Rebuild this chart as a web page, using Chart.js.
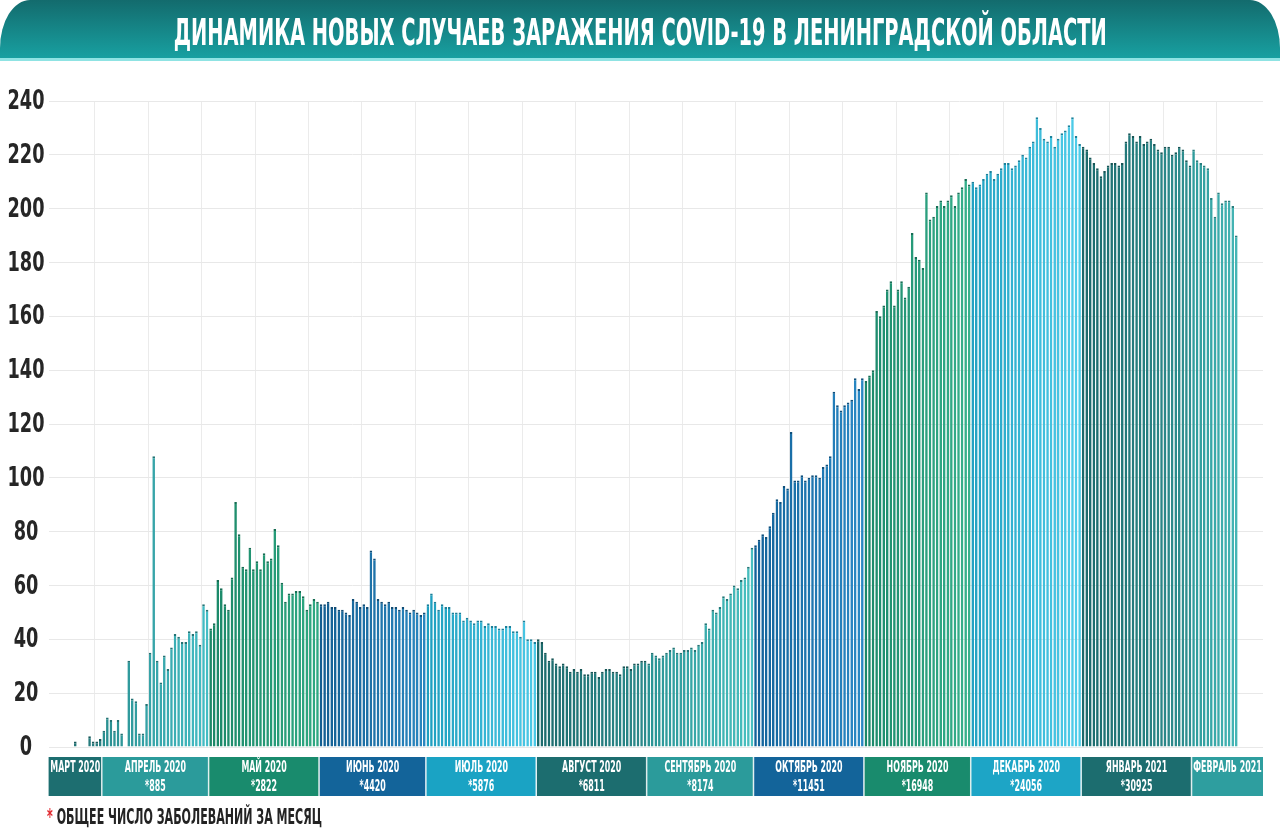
<!DOCTYPE html>
<html lang="ru">
<head>
<meta charset="utf-8">
<script src="https://cdn.jsdelivr.net/npm/chart.js@4.4.0/dist/chart.umd.min.js"></script>
<style>
  html, body { margin: 0; padding: 0; background: #fff; }
  body { width: 1280px; height: 833px; position: relative; overflow: hidden;
         font-family: "Liberation Sans Narrow", "DejaVu Sans Condensed", Roboto, sans-serif; }
  #chart { position: absolute; left: 0; top: 0; }
  #banner { position: absolute; left: 0; top: 0; width: 1280px; height: 58px;
            border-radius: 30px 30px 0 0 / 48px 48px 0 0;
            background: linear-gradient(#136b6d, #18a0a1);
            border-bottom: 3px solid #8fe3e3;
            display: flex; align-items: center; justify-content: center; overflow: hidden; }
  #title { color: #fff; font-weight: 700; font-size: 38px; white-space: nowrap;
           display: inline-block; transform-origin: center center; margin-top: 5px; }
  #note { position: absolute; left: 47px; top: 804px; font-weight: 700; font-size: 22px;
          color: #232323; white-space: nowrap; transform-origin: left center; }
  #note span { color: #e0262c; }
</style>
</head>
<body>
<canvas id="chart" width="1280" height="833"></canvas>
<div id="banner"><span id="title">ДИНАМИКА НОВЫХ СЛУЧАЕВ ЗАРАЖЕНИЯ COVID-19 В ЛЕНИНГРАДСКОЙ ОБЛАСТИ</span></div>
<div id="note"><span>*</span> ОБЩЕЕ ЧИСЛО ЗАБОЛЕВАНИЙ ЗА МЕСЯЦ</div>
<script>
// months shown in the strip under the bars
const monthNames = ['МАРТ 2020', 'АПРЕЛЬ 2020', 'МАЙ 2020', 'ИЮНЬ 2020', 'ИЮЛЬ 2020', 'АВГУСТ 2020',
  'СЕНТЯБРЬ 2020', 'ОКТЯБРЬ 2020', 'НОЯБРЬ 2020', 'ДЕКАБРЬ 2020', 'ЯНВАРЬ 2021', 'ФЕВРАЛЬ 2021'];
const monthTotals = ['', '*885', '*2822', '*4420', '*5876', '*6811', '*8174', '*11451', '*16948', '*24056', '*30925', ''];
const monthFirstDay = [17, 1, 1, 1, 1, 1, 1, 1, 1, 1, 1, 1];
const monthNumber = ['03', '04', '05', '06', '07', '08', '09', '10', '11', '12', '01', '02'];

// new cases per day, one array per month
const casesMar = [null, null, null, null, null, null, null, 2, null, null, null, 4, 2, 2, 3];
const casesApr = [6, 11, 10, 6, 10, 5, null, 32, 18, 17, 5, 5, 16, 35, 108, 32, 24, 34, 29, 37,
  42, 41, 39, 39, 43, 42, 43, 38, 53, 51];
const casesMay = [44, 46, 62, 59, 53, 51, 63, 91, 79, 67, 66, 74, 66, 69, 66, 72, 69, 70, 81, 75,
  61, 54, 57, 57, 58, 58, 56, 51, 53, 55, 54];
const casesJun = [53, 53, 54, 52, 52, 51, 51, 50, 49, 55, 54, 52, 53, 52, 73, 70, 55, 54, 53, 54,
  52, 52, 51, 52, 51, 50, 51, 50, 49, 50];
const casesJul = [53, 57, 54, 51, 53, 52, 52, 50, 50, 50, 47, 48, 47, 46, 47, 47, 45, 46, 45, 45,
  44, 44, 45, 45, 43, 43, 41, 47, 40, 40, 39];
const casesAug = [40, 39, 35, 32, 33, 31, 30, 31, 30, 28, 29, 28, 29, 27, 27, 28, 28, 26, 28, 29,
  29, 28, 28, 27, 30, 30, 29, 31, 31, 32, 32];
const casesSep = [31, 35, 34, 33, 34, 35, 36, 37, 35, 35, 36, 36, 37, 36, 38, 39, 46, 44, 51, 50,
  52, 56, 55, 57, 60, 59, 62, 63, 67, 74];
const casesOct = [75, 77, 79, 78, 82, 87, 92, 91, 97, 96, 117, 99, 99, 101, 99, 100, 101, 101, 100, 104,
  105, 108, 132, 127, 125, 127, 128, 129, 137, 133, 137];
const casesNov = [136, 138, 140, 162, 160, 164, 170, 173, 164, 170, 173, 167, 171, 191, 182, 181, 178, 206, 196, 197,
  201, 203, 201, 203, 205, 201, 206, 208, 211, 209];
const casesDec = [210, 208, 209, 211, 213, 214, 211, 213, 215, 217, 217, 215, 216, 218, 220, 219, 223, 225, 234, 230,
  226, 225, 227, 223, 226, 228, 229, 231, 234, 227, 224];
const casesJan = [223, 222, 219, 217, 215, 212, 214, 216, 217, 217, 216, 217, 225, 228, 227, 225, 227, 224, 225, 226,
  224, 222, 221, 223, 223, 220, 221, 223, 222, 218, 216];
const casesFeb = [222, 218, 217, 216, 215, 204, 197, 206, 202, 203, 203, 201, 190,
  null, null, null, null, null, null, null];
const monthCases = [casesMar, casesApr, casesMay, casesJun, casesJul, casesAug,
  casesSep, casesOct, casesNov, casesDec, casesJan, casesFeb];

const yTicks = [0, 20, 40, 60, 80, 100, 120, 140, 160, 180, 200, 220, 240];

// colours
const bandColors = ['#1d6e70', '#2b9b9b', '#198b6d', '#13649a', '#1aa3c4', '#1c6d6f',
  '#2b9b9b', '#13649a', '#198b6d', '#1da5c6', '#1c6d6f', '#2e9e9f'];
const barDark = ['#1e6e70', '#2a8f90', '#1b8868', '#135f92', '#1f9fbf', '#1b6a6c',
  '#2a9394', '#12639a', '#1b886a', '#22a2c2', '#1b6a6c', '#2f9c9c'];
const barLight = ['#2a8082', '#44bcc4', '#2fa882', '#2a86bf', '#4bc8e6', '#2c8a8b',
  '#48c0c0', '#2a88c4', '#36b08c', '#4fcdea', '#2f8f90', '#52c4c4'];

function hex(c) { return [1, 3, 5].map(i => parseInt(c.substr(i, 2), 16)); }
function mix(a, b, t) {
  const A = hex(a), B = hex(b);
  return 'rgb(' + A.map((v, i) => Math.round(v + (B[i] - v) * t)).join(',') + ')';
}
function shade(a, k) {
  return 'rgb(' + hex(a).map(v => Math.round(v * k)).join(',') + ')';
}

const dayLabels = [], dailyCases = [], barColors = [], barEdges = [];
monthCases.forEach((arr, m) => {
  arr.forEach((v, k) => {
    dayLabels.push((monthFirstDay[m] + k) + '.' + monthNumber[m]);
    dailyCases.push(v);
    const t = arr.length > 1 ? k / (arr.length - 1) : 0;
    barColors.push(mix(barDark[m], barLight[m], t));
    barEdges.push(shade(barDark[m], 0.8));
  });
});

const labelFont = '"Liberation Sans Narrow", "DejaVu Sans Condensed", Roboto, sans-serif';

// narrow condensed text: squeeze horizontally so a sample string gets a given width
function squeezeFor(ctx, sample, width) {
  return width / ctx.measureText(sample).width;
}
function narrowText(ctx, txt, x, y, k) {
  ctx.save();
  ctx.translate(x, y);
  ctx.scale(k, 1);
  ctx.fillText(txt, 0, 0);
  ctx.restore();
}

// y tick labels, placed with the y scale
const yLabels = {
  id: 'yLabels',
  afterDraw(chart) {
    const { ctx, scales: { y } } = chart;
    ctx.save();
    ctx.font = 'bold 27px ' + labelFont;
    ctx.fillStyle = '#262626';
    ctx.textAlign = 'center';
    ctx.textBaseline = 'middle';
    const k = squeezeFor(ctx, '240', 37);
    yTicks.forEach(v => narrowText(ctx, String(v), 26, y.getPixelForValue(v) + 1, k));
    ctx.restore();
  }
};

const monthBands = {
  id: 'monthBands',
  afterDraw(chart) {
    const { ctx, chartArea, scales: { x } } = chart;
    const half = (x.getPixelForValue(1) - x.getPixelForValue(0)) / 2;
    const top = chartArea.bottom + 10, h = 39;
    ctx.save();
    ctx.font = 'bold 16px ' + labelFont;
    const k = squeezeFor(ctx, 'НОЯБРЬ 2020', 62);
    let start = 0;
    monthNames.forEach((name, m) => {
      const n = monthCases[m].length;
      const x0 = x.getPixelForValue(start) - half;
      const x1 = x.getPixelForValue(start + n - 1) + half;
      ctx.fillStyle = bandColors[m];
      ctx.fillRect(x0, top, x1 - x0, h);
      if (m > 0) {
        ctx.fillStyle = 'rgba(255,255,255,0.85)';
        ctx.fillRect(x0 - 1, top, 1.5, h);
      }
      const cx = (x0 + x1) / 2;
      ctx.fillStyle = '#ffffff';
      ctx.textAlign = 'center';
      ctx.textBaseline = 'middle';
      narrowText(ctx, name, cx, top + 11, k);
      if (monthTotals[m]) narrowText(ctx, monthTotals[m], cx, top + 29.5, k);
      start += n;
    });
    ctx.restore();
  }
};

new Chart(document.getElementById('chart'), {
  type: 'bar',
  data: {
    labels: dayLabels,
    datasets: [{
      data: dailyCases,
      backgroundColor: barColors,
      borderColor: barEdges,
      borderWidth: { top: 2, left: 0, right: 0, bottom: 0 },
      barPercentage: 0.74,
      categoryPercentage: 1
    }]
  },
  options: {
    responsive: false,
    animation: false,
    layout: { padding: { top: 101, right: 17, bottom: 86, left: 0 } },
    plugins: { legend: { display: false }, tooltip: { enabled: false } },
    scales: {
      x: {
        ticks: { display: false },
        border: { display: false },
        grid: {
          drawTicks: false,
          color: c => (c.index % 15 === 13 ? '#ebebeb' : 'rgba(0,0,0,0)')
        },
        afterFit(s) { s.height = 0; }
      },
      y: {
        min: 0,
        max: 240,
        afterBuildTicks(s) { s.ticks = yTicks.map(v => ({ value: v })); },
        ticks: { display: false },
        border: { display: false },
        grid: { color: '#e8e8e8', drawTicks: false },
        afterFit(s) { s.width = 48.6; }
      }
    }
  },
  plugins: [monthBands, yLabels]
});

function fitWidth(el, target) {
  const w = el.getBoundingClientRect().width;
  el.style.transform = 'scaleX(' + (target / w) + ')';
}
fitWidth(document.getElementById('title'), 933);
fitWidth(document.getElementById('note'), 275);
</script>
</body>
</html>
